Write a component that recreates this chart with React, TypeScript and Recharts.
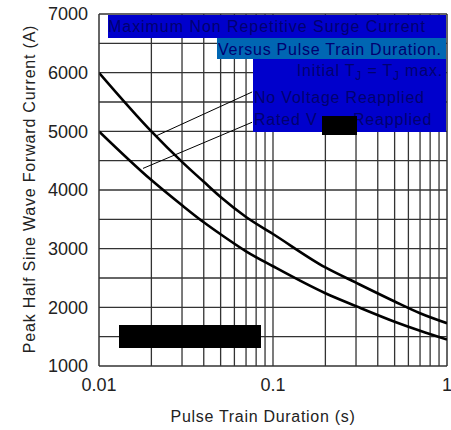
import { Line, LineChart, ReferenceLine, XAxis, YAxis } from "recharts";

// pulse train duration (s) and peak current (A)
const durations = [0.01, 0.02, 0.03, 0.04, 0.05, 0.07, 0.1, 0.2, 0.3, 0.5, 0.7, 1];
const noVoltage = [6000, 5000, 4480, 4140, 3880, 3540, 3250, 2680, 2420, 2100, 1900, 1730];
const ratedV = [5000, 4170, 3740, 3450, 3245, 2955, 2700, 2240, 2020, 1755, 1600, 1450];

const xTicks = [0.01, 0.1, 1];
const yTicks = [1000, 2000, 3000, 4000, 5000, 6000, 7000];
const xGrid = [0.02, 0.03, 0.04, 0.05, 0.06, 0.07, 0.08, 0.09, 0.1, 0.2, 0.3, 0.4, 0.5, 0.6, 0.7, 0.8, 0.9];
const yGrid = [1500, 2000, 2500, 3000, 3500, 4000, 4500, 5000, 5500, 6000, 6500];

// leader lines from the curves to their labels
const noVoltageLeader = [{ x: 0.0213, y: 4922 }, { x: 0.0759, y: 5671 }];
const ratedLeader = [{ x: 0.0179, y: 4368 }, { x: 0.0759, y: 5155 }];

const data = durations.map((t, i) => ({ t, noV: noVoltage[i], rated: ratedV[i] }));

const font = "'Liberation Sans', Arial, sans-serif";
const gridStroke = "#333";
const tickStyle = { fontSize: 18, fill: "#222", fontFamily: font };
const boxText = { fontSize: 16, fill: "#000070", fontFamily: font };

export default function App() {
  return (
    <div style={{ position: "absolute", left: 0, top: 0, width: 451, height: 430, background: "#fff" }}>
      <LineChart width={451} height={430} data={data} margin={{ top: 14, right: 4, bottom: 0, left: 0 }}>
        <XAxis
          dataKey="t"
          type="number"
          scale="log"
          domain={[0.01, 1]}
          allowDataOverflow
          ticks={xTicks}
          interval={0}
          tickFormatter={(v) => String(v)}
          tick={tickStyle}
          tickLine={false}
          tickSize={0}
          tickMargin={12}
          height={64}
          axisLine={{ stroke: gridStroke, strokeWidth: 1.5 }}
        />
        <YAxis
          type="number"
          domain={[1000, 7000]}
          ticks={yTicks}
          interval={0}
          tick={tickStyle}
          tickLine={false}
          tickSize={0}
          tickMargin={11}
          width={99}
          axisLine={{ stroke: gridStroke, strokeWidth: 1.5 }}
        />
        {xGrid.map((v) => (
          <ReferenceLine key={"x" + v} x={v} stroke={gridStroke} strokeWidth={1.3} />
        ))}
        {yGrid.map((v) => (
          <ReferenceLine key={"y" + v} y={v} stroke={gridStroke} strokeWidth={1.3} />
        ))}
        <ReferenceLine x={1} stroke={gridStroke} strokeWidth={1.5} />
        <ReferenceLine y={7000} stroke={gridStroke} strokeWidth={1.5} />
        <ReferenceLine segment={noVoltageLeader} stroke="#000" strokeWidth={1} />
        <ReferenceLine segment={ratedLeader} stroke="#000" strokeWidth={1} />
        <Line dataKey="noV" type="monotone" stroke="#000" strokeWidth={2.6} dot={false} isAnimationActive={false} />
        <Line dataKey="rated" type="monotone" stroke="#000" strokeWidth={2.6} dot={false} isAnimationActive={false} />
      </LineChart>
      <svg width={451} height={430} style={{ position: "absolute", left: 0, top: 0, pointerEvents: "none" }}>
        <rect x={108} y={15} width={338} height={23} fill="#0000cc" />
        <rect x={217} y={38} width={229} height={21} fill="#0066b3" />
        <rect x={253} y={59} width={193} height={73} fill="#0000cc" />
        <text x={108} y={32} {...boxText} letterSpacing={0.95}>Maximum Non Repetitive Surge Current</text>
        <text x={218} y={55} {...boxText} letterSpacing={0.75}>Versus Pulse Train Duration.</text>
        <text x={443} y={76} {...boxText} letterSpacing={0.8} textAnchor="end">
          Initial T<tspan fontSize={12} dy={4}>J</tspan>
          <tspan dy={-4}> = T</tspan>
          <tspan fontSize={12} dy={4}>J</tspan>
          <tspan dy={-4}>{"   max."}</tspan>
        </text>
        <text x={254} y={103} {...boxText} letterSpacing={0.8}>No Voltage Reapplied</text>
        <text x={254} y={125} {...boxText} letterSpacing={0.8}>Rated V</text>
        <text x={353} y={125} {...boxText} letterSpacing={0.8}>Reapplied</text>
        <rect x={322} y={116} width={35} height={19} fill="#000" />
        <rect x={119} y={325} width={142} height={23} fill="#000" />
        <text
          transform="translate(35,189) rotate(-90)"
          textAnchor="middle"
          fontSize={16}
          fill="#222"
          fontFamily={font}
          letterSpacing={0.8}
        >
          Peak Half Sine Wave Forward Current (A)
        </text>
        <text x={263} y={422} textAnchor="middle" fontSize={16} fill="#222" fontFamily={font} letterSpacing={0.7}>
          Pulse Train Duration (s)
        </text>
      </svg>
    </div>
  );
}
